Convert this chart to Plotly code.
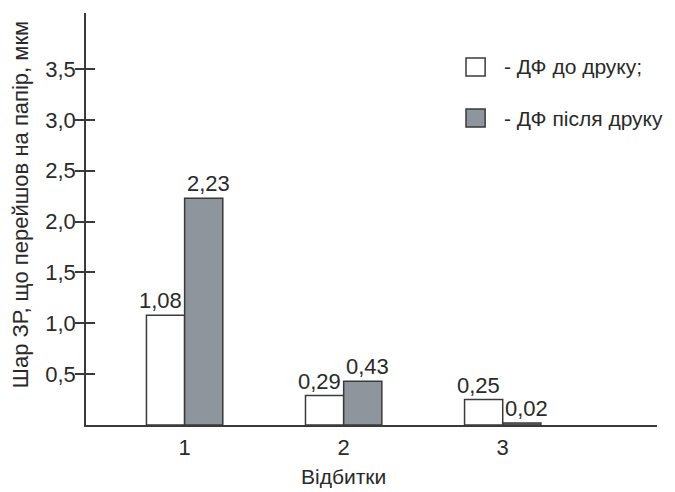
import plotly.graph_objects as go

categories = [1, 2, 3]
category_labels = ["1", "2", "3"]
before_values = [1.08, 0.29, 0.25]
after_values = [2.23, 0.43, 0.02]
series_names = ["- ДФ до друку;", "- ДФ після друку"]
y_tick_values = [0.5, 1.0, 1.5, 2.0, 2.5, 3.0, 3.5]

FONT = "Liberation Sans, Arial, sans-serif"
INK = "#2a2a2a"
EDGE = "#3a3a3a"
GRAY = "#8f959c"
FS = 22

fig = go.Figure()
fig.add_trace(go.Bar(
    x=categories, y=before_values, name=series_names[0],
    marker=dict(color="white", line=dict(color=EDGE, width=1.5)),
    showlegend=False,
))
fig.add_trace(go.Bar(
    x=categories, y=after_values, name=series_names[1],
    marker=dict(color=GRAY, line=dict(color=EDGE, width=1.5)),
    showlegend=False,
))
# invisible trace on second y axis for inward tick marks
fig.add_trace(go.Scatter(x=[categories[0]], y=[0], yaxis="y2", mode="markers",
                         marker=dict(opacity=0), showlegend=False, hoverinfo="skip"))

fig.update_layout(
    width=667, height=484,
    margin=dict(l=78, r=18, t=5, b=67),
    paper_bgcolor="white", plot_bgcolor="white",
    separators=", ",
    barmode="group", bargap=0.52, bargroupgap=0,
    font=dict(family=FONT, size=FS, color=INK),
    xaxis=dict(range=[0.38, 3.97], tickvals=categories, ticktext=category_labels,
               showline=True, linecolor=EDGE, linewidth=1.5, showgrid=False,
               zeroline=False, ticks="", ticklabelstandoff=2,
               tickfont=dict(size=FS, color=INK, family=FONT)),
    yaxis=dict(range=[0, 4.05], tickvals=y_tick_values, tickformat=".1f",
               showline=True, linecolor=EDGE, linewidth=1.5, showgrid=False,
               zeroline=False, ticks="outside", ticklen=9, tickwidth=1.5,
               tickcolor=EDGE, ticklabelstandoff=-5,
               tickfont=dict(size=FS, color=INK, family=FONT)),
    yaxis2=dict(range=[0, 4.05], tickvals=y_tick_values, overlaying="y", side="left",
                showline=False, showgrid=False, zeroline=False, ticks="inside",
                ticklen=9, tickwidth=1.5, tickcolor=EDGE, showticklabels=False),
    showlegend=False,
)

# value labels above bars (comma decimal separator)
for values, shift in ((before_values, -24), (after_values, 24)):
    for c, v in zip(categories, values):
        fig.add_annotation(text=f"{v:.2f}".replace(".", ","), x=c, y=v,
                           xref="x", yref="y", xshift=shift, yshift=0,
                           xanchor="center", yanchor="bottom", showarrow=False,
                           font=dict(size=FS, color=INK, family=FONT))

# axis titles
fig.add_annotation(text="Шар ЗР, що перейшов на папір, мкм", textangle=-90,
                   xref="paper", yref="paper", x=-0.1156, y=0.536,
                   xanchor="center", yanchor="middle", showarrow=False,
                   font=dict(size=FS, color=INK, family=FONT))
fig.add_annotation(text="Відбитки", xref="x", yref="paper", x=categories[1], y=-0.126,
                   xanchor="center", yanchor="middle", showarrow=False,
                   font=dict(size=21, color=INK, family=FONT))

# custom legend
legend_fills = ["white", GRAY]
legend_y = [0.869, 0.745]
for name, fill, ly in zip(series_names, legend_fills, legend_y):
    fig.add_shape(type="rect", xref="paper", yref="paper",
                  x0=0.6655, x1=0.699, y0=ly - 0.022, y1=ly + 0.022,
                  fillcolor=fill, line=dict(color=EDGE, width=1.5))
    fig.add_annotation(text=name, xref="paper", yref="paper", x=0.7286, y=ly,
                       xanchor="left", yanchor="middle", showarrow=False,
                       font=dict(size=21, color=INK, family=FONT))

fig.write_html("out.html")
